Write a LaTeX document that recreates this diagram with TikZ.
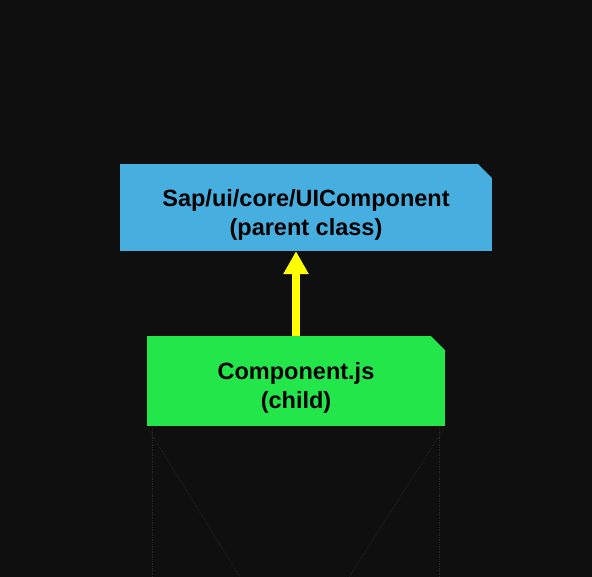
\documentclass[tikz,border=0pt]{standalone}
\usepackage{fontspec}
\setmainfont{Liberation Sans}
\usetikzlibrary{arrows.meta,positioning,calc}
\definecolor{night}{RGB}{15,15,15}
\definecolor{sky}{RGB}{71,175,224}
\definecolor{leaf}{RGB}{34,230,74}
\definecolor{sunny}{RGB}{255,255,0}
\definecolor{ghost}{RGB}{40,40,40}

\begin{document}
\begin{tikzpicture}[x=1pt,y=-1pt,
      dogear/.style={minimum width=#1,inner sep=0pt,align=center,
        font=\fontsize{23.5}{29}\selectfont\bfseries,
        path picture={\fill[night] ([xshift=-14pt]path picture bounding box.north east)
          -- (path picture bounding box.north east) -- ([yshift=-14pt]path picture bounding box.north east) -- cycle;}},
      inherit/.style={-{Triangle[width=24pt,length=23pt]},line width=8pt,sunny}
    ]
      \useasboundingbox[fill=night] (0,0) rectangle (592,577);
      \node[dogear=372pt,minimum height=87pt,fill=sky] (parent) at (306,207.5) {\rule{0pt}{31pt}Sap/ui/core/UIComponent\\(parent class)};
      \node[dogear=298pt,minimum height=90pt,fill=leaf] (child) at (296,381) {\rule{0pt}{31pt}Component.js\\(child)};
      \draw[inherit] (child.north) -- (child.north |- parent.south);
      % faint guide lines under the child box
      \draw[ghost,densely dotted,line width=0.7pt] ([xshift=6pt,yshift=-2pt]child.south west) -- ++(0,-149pt);
      \draw[ghost,densely dotted,line width=0.7pt] ([xshift=1pt,yshift=-2pt]child.south west) -- (240,577);
      \draw[ghost,densely dotted,line width=0.7pt] ([xshift=-1pt,yshift=-2pt]child.south east) -- (349,577);
      \draw[ghost,densely dotted,line width=0.7pt] ([xshift=-6pt,yshift=-2pt]child.south east) -- ++(0,-149pt);
    \end{tikzpicture}
\end{document}
